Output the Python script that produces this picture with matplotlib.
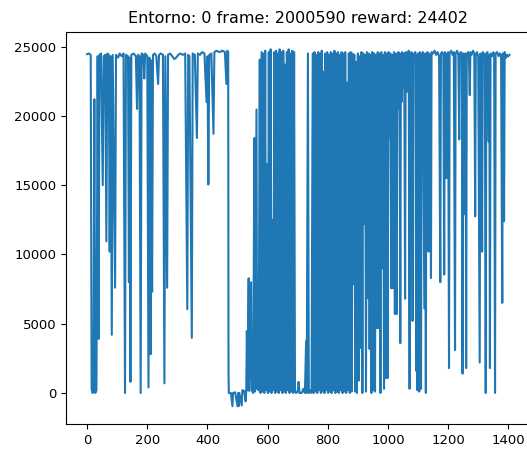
import numpy as np
import matplotlib
matplotlib.use("Agg")
import matplotlib.pyplot as plt

# reward por episodio
early = [
    (0, 24450), (6, 24500), (12, 24400), (15, 300), (18, 0), (21, 100), (24, 21200),
    (27, 0), (31, 200), (35, 24300), (38, 3900), (41, 24400), (46, 24500), (52, 15000),
    (55, 24300), (60, 24400), (64, 10950), (67, 24500), (72, 24400), (75, 10200),
    (78, 24300), (82, 4200), (85, 24400), (93, 7600), (96, 24400), (103, 24200),
    (108, 24500), (115, 24300), (121, 24500), (126, 0), (129, 24400), (136, 24300),
    (139, 8000), (141, 24200), (144, 800), (147, 24400), (155, 24500), (162, 24300),
    (166, 20500), (169, 24400), (174, 24300), (178, 0), (181, 24500), (187, 24400),
    (190, 22700), (193, 24500), (200, 24300), (204, 400), (207, 24200), (211, 2800),
    (213, 24000), (216, 7300), (219, 24400), (225, 24500), (230, 24300), (236, 22300),
    (239, 24400), (245, 24500), (252, 24400), (257, 700), (260, 24300), (266, 7600),
    (269, 24400), (276, 24500), (283, 24300), (290, 24100), (296, 24200), (303, 24400),
    (310, 24500), (318, 24400), (326, 24500), (333, 6050), (336, 24400), (340, 24300),
    (348, 3980), (351, 24500), (358, 24400), (365, 18400), (368, 24500), (375, 24400),
    (382, 24600), (390, 24500), (397, 21000), (400, 24300), (403, 15050), (406, 24400),
    (413, 24500), (420, 18700), (423, 24600), (430, 24700), (440, 24600), (450, 24700),
    (458, 24600), (463, 22300), (466, 24700), (469, 24600), (470, 1600),
]

low = [
    (471, 0), (478, 0), (483, -950), (485, 0), (492, 50), (500, -950), (502, 0),
    (504, -950), (506, 0), (514, -900), (516, 200), (522, 150), (527, -600),
    (529, 200), (531, 4470), (533, 200), (537, 8280), (539, 150), (545, 8000),
    (547, 200), (552, 0), (556, 18400), (558, 100), (563, 20460), (565, 300),
    (570, 200), (574, 24060), (576, 0),
]

dense1_ep = list(range(580, 692, 3))
dense1_reward = [
    24600, 100, 24500, 0, 24700, 200, 16500, 0, 24600, 100,
    24800, 0, 12500, 200, 24600, 0, 24700, 100, 24500, 0,
    24800, 200, 24600, 0, 24700, 100, 23700, 0, 24600, 200,
    24800, 0, 24500, 100, 24700, 0, 24600, 200,
]

gap = [
    (694, 0), (700, 100), (703, 800), (706, 0), (713, 0), (719, 300), (724, 0),
    (728, 3750), (730, 0), (734, 24500), (737, 0), (742, 200), (746, 0),
]

dense2_ep = list(range(750, 880, 3))
dense2_reward = [
    24500, 0, 24600, 100, 24400, 0, 24600, 200, 24500, 0,
    24700, 100, 23200, 0, 24500, 200, 24600, 0, 24400, 100,
    24600, 0, 24500, 200, 24700, 0, 24500, 100, 24600, 0,
    24400, 200, 24600, 0, 24500, 100, 24600, 0, 22400, 200,
    24500, 0, 24600, 100,
]

dense3_ep = list(range(882, 1035, 3))
dense3_reward = [
    24500, 7850, 24400, 100, 23900, 0, 24500, 900, 24300, 3250,
    24600, 0, 24500, 12200, 24400, 100, 24600, 6850, 24500, 3170,
    24400, 0, 24600, 200, 24500, 100, 24400, 4680, 24600, 4680,
    24500, 0, 24600, 9000, 24400, 300, 24600, 1080, 24500, 1080,
    24600, 18400, 24500, 7560, 24400, 7560, 24600, 5700, 24500, 5700,
    24400,
]

tail = [
    (1035, 24600), (1037, 20500), (1039, 24500), (1041, 3600), (1043, 24400),
    (1045, 21000), (1047, 24600), (1050, 24300), (1052, 22000), (1054, 24500),
    (1057, 6800), (1059, 24600), (1062, 24300), (1064, 21750), (1066, 24500),
    (1069, 24700), (1072, 300), (1074, 24400), (1078, 24600), (1082, 5200),
    (1084, 24500), (1088, 24300), (1091, 24600), (1094, 1600), (1096, 24400),
    (1098, 200), (1100, 24500), (1104, 100), (1106, 24600), (1110, 300),
    (1112, 24400), (1116, 24600), (1121, 6100), (1123, 24500), (1126, 0),
    (1128, 24400), (1131, 24600), (1135, 10200), (1137, 24500), (1140, 24300),
    (1143, 8300), (1145, 24600), (1150, 24500), (1155, 24700), (1160, 24400),
    (1165, 24600), (1170, 24300), (1174, 8000), (1176, 24500), (1180, 24600),
    (1184, 24400), (1187, 8550), (1189, 24600), (1192, 24500), (1194, 15500),
    (1196, 24300), (1200, 24600), (1203, 1800), (1205, 24500), (1210, 24700),
    (1215, 24400), (1219, 24600), (1223, 3100), (1225, 24500), (1230, 24700),
    (1234, 24400), (1237, 18300), (1239, 24500), (1243, 24600), (1246, 24400),
    (1248, 1400), (1250, 24500), (1254, 24300), (1256, 12900), (1258, 24500),
    (1260, 1800), (1262, 24400), (1266, 24600), (1269, 24300), (1272, 21500),
    (1274, 24600), (1278, 24400), (1283, 24700), (1287, 24500), (1290, 12750),
    (1292, 24400), (1296, 24600), (1300, 24300), (1305, 2200), (1307, 24500),
    (1310, 24400), (1313, 10200), (1315, 24600), (1319, 24500), (1322, 24300),
    (1325, 0), (1327, 24500), (1331, 24600), (1335, 18150), (1337, 24400),
    (1339, 1800), (1341, 24500), (1346, 24300), (1350, 24600), (1353, 24400),
    (1356, 0), (1358, 24500), (1363, 24600), (1368, 24300), (1372, 24500),
    (1376, 24400), (1380, 6500), (1382, 24500), (1384, 24300), (1386, 12400),
    (1388, 24600), (1393, 24200), (1396, 24400), (1400, 24300), (1404, 24402),
]

entorno = 0
frame = 2000590


def build_series():
    ep, rew = [], []
    for part in (early, low):
        ep += [p[0] for p in part]
        rew += [p[1] for p in part]
    ep += dense1_ep
    rew += dense1_reward
    ep += [p[0] for p in gap]
    rew += [p[1] for p in gap]
    ep += dense2_ep
    rew += dense2_reward
    ep += dense3_ep
    rew += dense3_reward
    ep += [p[0] for p in tail]
    rew += [p[1] for p in tail]
    return np.array(ep), np.array(rew)


ep, rew = build_series()

plt.rcParams["font.family"] = "DejaVu Sans"
fig = plt.figure(figsize=(5.27, 4.49), dpi=100)
# el eje derecho queda fuera de la imagen, como en la original
ax = fig.add_axes([66 / 527, 25 / 449, 464.6 / 527, 392.5 / 449])
ax.plot(ep, rew, color="#1f77b4", lw=1.5)
ax.set_title(f"Entorno: {entorno} frame: {frame} reward: {rew[-1]}", fontsize=11.5)
ax.tick_params(labelsize=9.5)

fig.savefig("out.png", dpi=100)
